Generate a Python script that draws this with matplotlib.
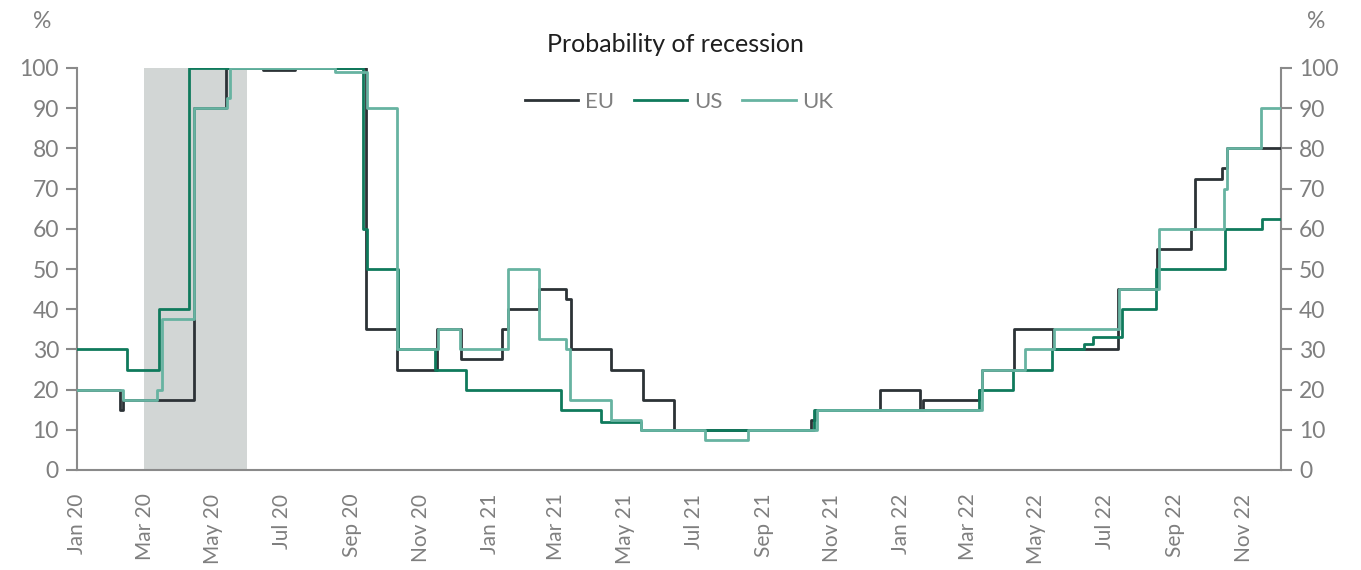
import matplotlib
matplotlib.use("Agg")
import matplotlib.pyplot as plt
import matplotlib.dates as mdates
import pandas as pd

# ---- data (step-change dates and values) ----
eu_dates = ["2020-01-01", "2020-02-08", "2020-02-11", "2020-04-14", "2020-05-12", "2020-06-14",
            "2020-07-12", "2020-09-13", "2020-10-11", "2020-11-15", "2020-12-07", "2021-01-12",
            "2021-01-17", "2021-02-14", "2021-03-10", "2021-03-14", "2021-04-19", "2021-05-17",
            "2021-06-14", "2021-10-13", "2021-10-17", "2021-12-13", "2022-01-18", "2022-01-20",
            "2022-03-11", "2022-03-14", "2022-04-11", "2022-05-16", "2022-07-12", "2022-08-16",
            "2022-09-15", "2022-09-19", "2022-10-13", "2022-10-17", "2022-12-04"]
eu_vals = [20, 15, 17.5, 90, 100, 99.5,
           100, 35, 25, 35, 27.5, 35,
           40, 45, 42.5, 30, 25, 17.5,
           10, 12.5, 15, 20, 15, 17.5,
           20, 25, 35, 30, 45, 55,
           60, 72.5, 75, 80, 80]

us_dates = ["2020-01-01", "2020-02-14", "2020-03-14", "2020-04-09", "2020-09-11", "2020-09-14",
            "2020-10-12", "2020-11-14", "2020-12-11", "2021-03-05", "2021-04-10", "2021-05-15",
            "2021-10-16", "2022-03-11", "2022-04-10", "2022-05-15", "2022-06-12", "2022-06-20",
            "2022-07-16", "2022-08-15", "2022-10-15", "2022-11-17", "2022-12-04"]
us_vals = [30, 25, 40, 100, 60, 50,
           30, 25, 20, 15, 12, 10,
           15, 20, 25, 30, 31.25, 33,
           40, 50, 60, 62.5, 62.5]

uk_dates = ["2020-01-01", "2020-02-11", "2020-03-12", "2020-03-16", "2020-04-14", "2020-05-13",
            "2020-05-16", "2020-08-17", "2020-09-14", "2020-10-11", "2020-11-16", "2020-12-06",
            "2021-01-17", "2021-02-14", "2021-03-10", "2021-03-13", "2021-04-19", "2021-05-15",
            "2021-07-11", "2021-08-18", "2021-10-18", "2022-03-14", "2022-04-21", "2022-05-17",
            "2022-07-13", "2022-08-18", "2022-10-14", "2022-10-17", "2022-11-16", "2022-12-04"]
uk_vals = [20, 17.5, 20, 37.5, 90, 92.5,
           100, 99, 90, 30, 35, 30,
           50, 32.5, 30, 17.5, 12.5, 10,
           7.5, 10, 15, 25, 30, 35,
           45, 60, 70, 80, 90, 90]

recession_start = "2020-02-29"
recession_end = "2020-05-31"

series_names = ["EU", "US", "UK"]
colors = {"EU": "#2c3236", "US": "#0f7a5c", "UK": "#67b3a1"}
title = "Probability of recession"

# ---- plot ----
plt.rcParams['font.family'] = ['Lato', 'DejaVu Sans']
grey = "#7f7f7f"
spine_grey = "#8a8a8a"

fig = plt.figure(figsize=(13.61, 5.70), dpi=100)
ax = fig.add_axes([77 / 1361, 1 - 470 / 570, (1281 - 77) / 1361, (470 - 68) / 570])

ax.axvspan(pd.Timestamp(recession_start), pd.Timestamp(recession_end),
           color="#d2d6d5", zorder=0, lw=0)

data = {"EU": (eu_dates, eu_vals), "US": (us_dates, us_vals), "UK": (uk_dates, uk_vals)}
for name in series_names:
    d, v = data[name]
    ax.plot(pd.to_datetime(d), v, drawstyle="steps-post", color=colors[name],
            lw=2.0, label=name, zorder=3)

ax.set_xlim(pd.Timestamp("2020-01-01"), pd.Timestamp("2022-12-04"))
ax.set_ylim(0, 100)
ax.set_yticks(range(0, 101, 10))
ax.xaxis.set_major_locator(mdates.MonthLocator(bymonth=[1, 3, 5, 7, 9, 11]))
ax.xaxis.set_major_formatter(mdates.DateFormatter("%b %y"))
for lab in ax.get_xticklabels():
    lab.set_rotation(90)

ax.tick_params(axis="x", length=0, labelsize=15, labelcolor=grey, pad=17)
ax.tick_params(axis="y", which="both", length=8, width=1.5, color=spine_grey,
               labelsize=16.5, labelcolor=grey, left=True, right=True,
               labelleft=True, labelright=True, pad=5)

for s in ["left", "right", "bottom"]:
    ax.spines[s].set_color(spine_grey)
    ax.spines[s].set_linewidth(1.5)
ax.spines["top"].set_visible(False)

leg = ax.legend(loc="center", bbox_to_anchor=(0.5, 0.915), ncol=3, frameon=False,
                fontsize=16, handlelength=2.4, handletextpad=0.3, columnspacing=0.9)
for t in leg.get_texts():
    t.set_color(grey)

fig.text(675 / 1361, 1 - 44 / 570, title, ha="center", va="center",
         fontsize=18, color="#1f1f1f")
fig.text(42 / 1361, 1 - 22 / 570, "%", ha="center", va="center", fontsize=16.5, color=grey)
fig.text(1316 / 1361, 1 - 22 / 570, "%", ha="center", va="center", fontsize=16.5, color=grey)

fig.savefig("out.png", dpi=100)
